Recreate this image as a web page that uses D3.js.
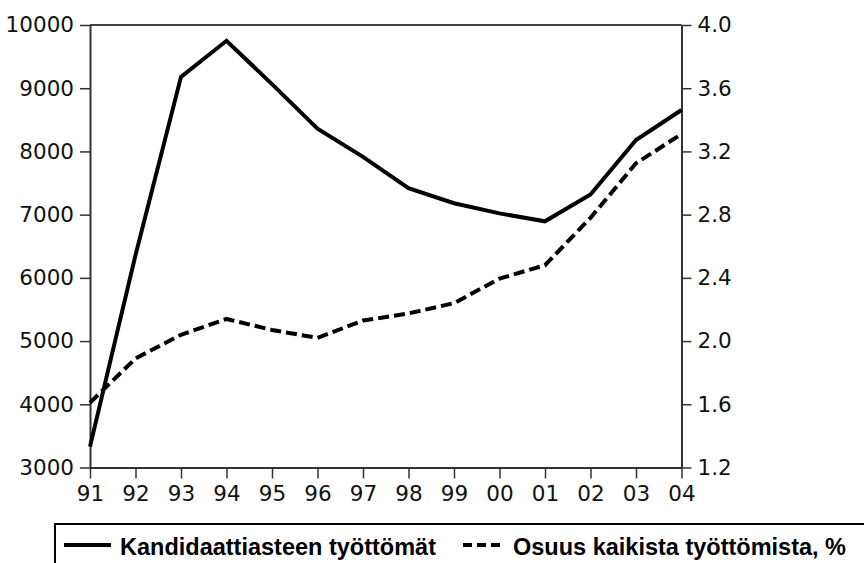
<!DOCTYPE html>
<html>
<head>
<meta charset="utf-8">
<script src="https://cdnjs.cloudflare.com/ajax/libs/d3/7.8.5/d3.min.js"></script>
<style>
  body { margin: 0; background: #fff; }
  svg { display: block; }
</style>
</head>
<body>
<script>
let years = ['91', '92', '93', '94', '95', '96', '97', '98', '99', '00', '01', '02', '03', '04'];
let tyottomat = [3330, 6360, 9180, 9750, 9065, 8360, 7915, 7420, 7180, 7020, 6895, 7320, 8180, 8655];
let osuus = [1.61, 1.89, 2.04, 2.14, 2.07, 2.02, 2.13, 2.175, 2.24, 2.395, 2.48, 2.78, 3.125, 3.31];
let leftTicks = [3000, 4000, 5000, 6000, 7000, 8000, 9000, 10000];
let rightTicks = [1.2, 1.6, 2.0, 2.4, 2.8, 3.2, 3.6, 4.0];
let legendLabels = ['Kandidaattiasteen työttömät', 'Osuus kaikista työttömista, %'];

let width = 864;
let height = 563;
let margin = { top: 25, left: 90, right: 182.5, bottom: 95.5 };

let svg = d3.select('body').append('svg')
  .attr('width', width)
  .attr('height', height);

svg.append('rect').attr('width', width).attr('height', height).attr('fill', '#fff');

let x = d3.scalePoint().domain(years).range([margin.left, width - margin.right]);
let yLeft = d3.scaleLinear().domain([3000, 10000]).range([height - margin.bottom, margin.top]);
let yRight = d3.scaleLinear().domain([1.2, 4.0]).range([height - margin.bottom, margin.top]);

// top border of the frame
svg.append('line')
  .attr('x1', margin.left).attr('x2', width - margin.right)
  .attr('y1', margin.top).attr('y2', margin.top)
  .attr('stroke', '#000').attr('stroke-width', 1.5);

function styleAxis(g) {
  g.selectAll('.domain').attr('stroke', '#333').attr('stroke-width', 2);
  g.selectAll('.tick line').attr('stroke', '#333').attr('stroke-width', 1.5);
  g.selectAll('.tick text')
    .attr('fill', '#111')
    .style('font-family', '"DejaVu Sans", sans-serif')
    .style('font-size', '21.5px');
}

svg.append('g')
  .attr('transform', 'translate(' + margin.left + ',0)')
  .call(d3.axisLeft(yLeft).tickValues(leftTicks).tickFormat(d3.format('d')).tickSize(10).tickPadding(6).tickSizeOuter(0))
  .call(styleAxis);

svg.append('g')
  .attr('transform', 'translate(' + (width - margin.right) + ',0)')
  .call(d3.axisRight(yRight).tickValues(rightTicks).tickFormat(d3.format('.1f')).tickSize(10).tickPadding(6).tickSizeOuter(0))
  .call(styleAxis);

svg.append('g')
  .attr('transform', 'translate(0,' + (height - margin.bottom) + ')')
  .call(d3.axisBottom(x).tickSize(11).tickPadding(7).tickSizeOuter(0))
  .call(styleAxis);

let lineLeft = d3.line()
  .x(function(d, i) { return x(years[i]); })
  .y(function(d) { return yLeft(d); });

let lineRight = d3.line()
  .x(function(d, i) { return x(years[i]); })
  .y(function(d) { return yRight(d); });

svg.append('path')
  .datum(osuus)
  .attr('d', lineRight)
  .attr('fill', 'none')
  .attr('stroke', '#000')
  .attr('stroke-width', 4)
  .attr('stroke-dasharray', '11,5');

svg.append('path')
  .datum(tyottomat)
  .attr('d', lineLeft)
  .attr('fill', 'none')
  .attr('stroke', '#000')
  .attr('stroke-width', 4)
  .attr('stroke-linejoin', 'miter');

// legend box, runs off the right and bottom edge like the original
let legend = svg.append('g').attr('transform', 'translate(55,524)');

legend.append('rect')
  .attr('width', 840)
  .attr('height', 80)
  .attr('fill', 'none')
  .attr('stroke', '#000')
  .attr('stroke-width', 2);

legend.append('line')
  .attr('x1', 9).attr('x2', 56).attr('y1', 21).attr('y2', 21)
  .attr('stroke', '#000').attr('stroke-width', 4);

legend.append('line')
  .attr('x1', 408).attr('x2', 445).attr('y1', 21).attr('y2', 21)
  .attr('stroke', '#000').attr('stroke-width', 4)
  .attr('stroke-dasharray', '9,5');

legend.selectAll('text.lbl')
  .data(legendLabels)
  .enter().append('text')
  .attr('class', 'lbl')
  .attr('x', function(d, i) { return i == 0 ? 65 : 458; })
  .attr('y', 31)
  .style('font-family', '"Liberation Sans", Arial, sans-serif')
  .style('font-weight', 'bold')
  .style('font-size', '23.5px')
  .attr('fill', '#000')
  .text(function(d) { return d; });
</script>
</body>
</html>
